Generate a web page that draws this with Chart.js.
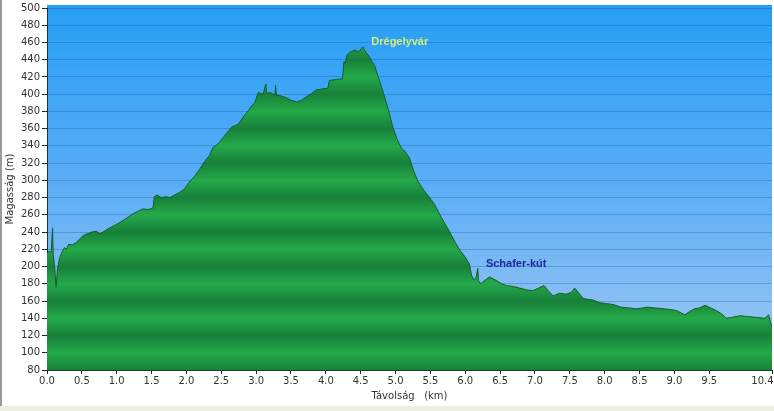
<!DOCTYPE html>
<html>
<head>
<meta charset="utf-8">
<script src="https://cdn.jsdelivr.net/npm/chart.js@4/dist/chart.umd.min.js"></script>
<style>
    html, body { margin: 0; padding: 0; background: #ffffff; }
    #wrap { width: 774px; height: 411px; }
</style>
</head>
<body>
<div id="wrap"><canvas id="profile_chart" width="774" height="411"></canvas></div>
<script>
    'use strict';

    // elevation profile
    var distKm = [
        0.00, 0.03, 0.06, 0.08, 0.09, 0.11, 0.13, 0.15, 0.18, 0.21,
        0.25, 0.28, 0.31, 0.36, 0.42, 0.47, 0.52, 0.58, 0.64, 0.71,
        0.76, 0.82, 0.90, 1.00, 1.08, 1.16, 1.23, 1.30, 1.38, 1.45,
        1.52, 1.54, 1.58, 1.64, 1.70, 1.76, 1.83, 1.90, 1.97, 2.05,
        2.12, 2.19, 2.26, 2.33, 2.38, 2.45, 2.52, 2.58, 2.65, 2.74,
        2.84, 2.90, 2.93, 2.98, 3.03, 3.10, 3.14, 3.15, 3.20, 3.27,
        3.28, 3.29, 3.36, 3.43, 3.50, 3.58, 3.65, 3.72, 3.80, 3.86,
        3.95, 4.03, 4.05, 4.15, 4.24, 4.26, 4.28, 4.30, 4.35, 4.42,
        4.47, 4.53, 4.57, 4.62, 4.66, 4.70, 4.76, 4.82, 4.89, 4.96,
        5.02, 5.08, 5.14, 5.20, 5.26, 5.32, 5.40, 5.49, 5.56, 5.63,
        5.70, 5.77, 5.85, 5.92, 5.99, 6.03, 6.06, 6.09, 6.12, 6.15,
        6.18, 6.19, 6.22, 6.28, 6.35, 6.44, 6.52, 6.59, 6.69, 6.78,
        6.88, 6.97, 7.05, 7.13, 7.19, 7.26, 7.35, 7.45, 7.52, 7.57,
        7.63, 7.69, 7.76, 7.84, 7.93, 8.03, 8.12, 8.23, 8.35, 8.45,
        8.55, 8.61, 8.72, 8.85, 8.95, 9.03, 9.10, 9.15, 9.22, 9.29,
        9.36, 9.44, 9.52, 9.60, 9.68, 9.74, 9.82, 9.94, 10.05, 10.18,
        10.30, 10.35, 10.37, 10.40
    ];
    var altitudeM = [
        215, 218, 216, 245, 214, 200, 176, 198, 210, 216,
        222, 220, 226, 225, 228, 232, 236, 238, 240, 241,
        238, 241, 245, 249, 253, 257, 261, 264, 267, 266,
        268, 281, 283, 280, 281, 280, 283, 286, 290, 299,
        305, 313, 322, 329, 338, 342, 349, 355, 362, 365,
        376, 382, 386, 390, 402, 400, 412, 401, 402, 399,
        410, 399, 398, 396, 393, 391, 393, 397, 401, 405,
        406, 407, 416, 417, 418, 438, 436, 445, 449, 451,
        449, 455, 449, 444, 438, 433, 418, 403, 384, 362,
        348, 338, 333, 326, 311, 299, 289, 280, 272, 261,
        251, 241, 229, 219, 212, 207, 203, 190, 185, 186,
        198, 184, 180, 184, 188, 184, 180, 178, 177, 175,
        173, 172, 175, 178, 172, 166, 169, 168, 170, 175,
        169, 163, 162, 161, 158, 157, 156, 153, 152, 151,
        152, 153, 152, 151, 150, 149, 146, 144, 148, 151,
        152, 155, 152, 149, 145, 140, 141, 143, 142, 141,
        140, 144, 138, 130
    ];

    var xTickValues = [0, 0.5, 1, 1.5, 2, 2.5, 3, 3.5, 4, 4.5, 5, 5.5, 6, 6.5, 7, 7.5, 8, 8.5, 9, 9.5, 10.4];
    var xTickLabels = ['0.0', '0.5', '1.0', '1.5', '2.0', '2.5', '3.0', '3.5', '4.0', '4.5', '5.0',
        '5.5', '6.0', '6.5', '7.0', '7.5', '8.0', '8.5', '9.0', '9.5', '10.4'];

    // named points on the route
    var poiNames = ['Drégelyvár', 'Schafer-kút'];
    var poiKm = [5.06, 6.73];
    var poiAlt = [461, 203];
    var poiColors = ['#d4ef78', '#1a2a9c'];

    var axisFont = { family: 'DejaVu Sans', size: 10 };

    function buildPoints() {
        var pts = [];
        for (var i = 0; i < distKm.length; i++) {
            pts.push({ x: distKm[i], y: altitudeM[i] });
        }
        return pts;
    }

    // green fill with dark bands every 40 m
    function bandFill(context) {
        var chart = context.chart;
        var area = chart.chartArea;
        if (!area) {
            return '#22a446';
        }
        var yScale = chart.scales.y;
        var grad = chart.ctx.createLinearGradient(0, area.top, 0, area.bottom);
        for (var v = 500; v >= 80; v -= 20) {
            var pos = (yScale.getPixelForValue(v) - area.top) / (area.bottom - area.top);
            pos = Math.min(1, Math.max(0, pos));
            grad.addColorStop(pos, (v % 40 === 0) ? '#17803a' : '#24a949');
        }
        return grad;
    }

    var framePlugin = {
        id: 'frame',
        beforeDraw: function (chart) {
            var ctx = chart.ctx;
            var area = chart.chartArea;
            ctx.save();
            ctx.fillStyle = '#ffffff';
            ctx.fillRect(0, 0, chart.width, chart.height);
            ctx.fillStyle = '#eeeee2';
            ctx.fillRect(0, 406, chart.width, chart.height - 406);
            ctx.fillStyle = '#9a9a9a';
            ctx.fillRect(0, 0, 2, 406);

            // sky behind the plot
            var sky = ctx.createLinearGradient(0, area.top - 3, 0, area.bottom);
            sky.addColorStop(0, '#269ef5');
            sky.addColorStop(0.5, '#5caef6');
            sky.addColorStop(1, '#a2c9f2');
            ctx.fillStyle = sky;
            ctx.fillRect(area.left, area.top - 3, area.right - area.left, area.bottom - area.top + 3);
            ctx.restore();
        }
    };

    var poiPlugin = {
        id: 'poi_labels',
        afterDatasetsDraw: function (chart) {
            var ctx = chart.ctx;
            var xs = chart.scales.x;
            var ys = chart.scales.y;
            ctx.save();
            ctx.font = 'bold 11px "Liberation Sans", Arial, sans-serif';
            ctx.textAlign = 'center';
            ctx.textBaseline = 'middle';
            for (var i = 0; i < poiNames.length; i++) {
                ctx.fillStyle = poiColors[i];
                ctx.fillText(poiNames[i], xs.getPixelForValue(poiKm[i]), ys.getPixelForValue(poiAlt[i]));
            }
            ctx.restore();
        }
    };

    var cxt = document.getElementById('profile_chart').getContext('2d');
    var profileChart = new Chart(cxt, {
        type: 'line',
        data: {
            datasets: [{
                label: 'Magasság',
                data: buildPoints(),
                parsing: false,
                fill: 'start',
                backgroundColor: bandFill,
                borderColor: '#155c2c',
                borderWidth: 1,
                pointRadius: 0,
                tension: 0
            }]
        },
        plugins: [framePlugin, poiPlugin],
        options: {
            responsive: false,
            animation: false,
            layout: { padding: { left: 0, right: 2, top: 6, bottom: 0 } },
            plugins: {
                legend: { display: false },
                tooltip: { enabled: false }
            },
            scales: {
                x: {
                    type: 'linear',
                    min: 0,
                    max: 10.4,
                    afterBuildTicks: function (scale) {
                        scale.ticks = xTickValues.map(function (v) { return { value: v }; });
                    },
                    afterFit: function (scale) {
                        scale.height = 41;
                        scale.paddingLeft = 0;
                        scale.paddingRight = 0;
                    },
                    ticks: {
                        autoSkip: false,
                        maxRotation: 0,
                        padding: 1,
                        color: '#333333',
                        font: axisFont,
                        callback: function (value) {
                            var idx = xTickValues.indexOf(value);
                            var txt = idx >= 0 ? xTickLabels[idx] : '';
                            // last label sits against the right edge
                            if (idx === xTickValues.length - 1) {
                                txt = txt + '      ';
                            }
                            return txt;
                        }
                    },
                    grid: {
                        drawOnChartArea: false,
                        tickLength: 4,
                        tickColor: '#222222'
                    },
                    border: { color: '#1d3d28', width: 1 },
                    title: {
                        display: true,
                        text: 'Távolság   (km)',
                        color: '#333333',
                        font: axisFont,
                        padding: { top: 0, bottom: 9 }
                    }
                },
                y: {
                    min: 80,
                    max: 500,
                    afterFit: function (scale) {
                        scale.width = 47;
                    },
                    ticks: {
                        stepSize: 20,
                        padding: 2,
                        color: '#333333',
                        font: axisFont
                    },
                    grid: {
                        color: 'rgba(20, 70, 140, 0.28)',
                        tickLength: 5,
                        tickColor: '#222222'
                    },
                    border: { color: '#1b2f55', width: 1 },
                    title: {
                        display: true,
                        text: 'Magasság (m)',
                        color: '#333333',
                        font: axisFont,
                        padding: { top: 4, bottom: 0 }
                    }
                }
            }
        }
    });

    console.log("Chart Done");
</script>
</body>
</html>
